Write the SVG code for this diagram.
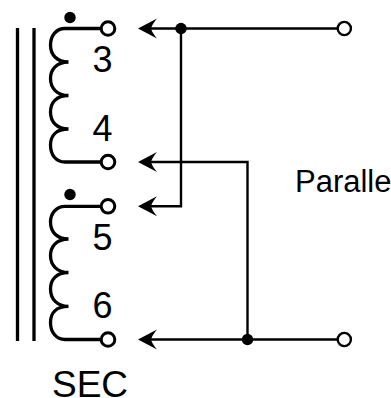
<svg xmlns="http://www.w3.org/2000/svg" width="391" height="398" viewBox="0 0 391 398">
<style>
.w{fill:none;stroke:#000;stroke-width:2.4}
.c{fill:none;stroke:#000;stroke-width:3.3}
.t{fill:#fff;stroke:#000;stroke-width:3}
.u{fill:#fff;stroke:#000;stroke-width:2.4}
.d{fill:#000}
text{font-family:"Liberation Sans",Arial,sans-serif;fill:#000}
</style>
<defs>
<path id="arrow" d="M138 0L157-10Q152-4 151 0Q152 4 157 10Z" class="d"/>
</defs>
<rect width="391" height="398" fill="#fff"/>
<g id="core"><path class="c" d="M17.500 28V341M34 28V341"/></g>
<g id="connectors">
<path class="w" d="M145 28.500H337M181 28.500V206.300H145M145 162H247.500V339M145 339.500H337"/>
<circle class="d" cx="181" cy="28.500" r="5.700"/>
<circle class="d" cx="247.500" cy="339.500" r="5.700"/>
<use href="#arrow" y="28.500"/><use href="#arrow" y="162"/><use href="#arrow" y="206.300"/><use href="#arrow" y="339.500"/>
</g>
<g id="winding-3-4">
<path class="c" d="M101 28.500H65C56 28.500 50.500 36 50.500 45C50.500 55 57 62 68.500 62C56 62 50.500 70 50.500 78.500C50.500 88 57 95.500 68.500 95.500C56 95.500 50.500 103 50.500 112C50.500 122 57 129 68.500 129C56 129 50.500 136 50.500 145C50.500 155 56 162 65 162H101"/>
<circle class="d" cx="70" cy="17.500" r="5.700"/>
<circle class="t" cx="108" cy="28.500" r="6.800"/><circle class="t" cx="108" cy="162" r="6.800"/>
<text x="92.500" y="71.500" font-size="36">3</text><text x="92.500" y="140.500" font-size="36">4</text>
</g>
<g id="winding-5-6">
<path class="c" d="M101 206.300H65C56 206.300 50.500 214 50.500 222C50.500 232 57 239 68.500 239C56 239 50.500 247 50.500 255.500C50.500 265 57 272.500 68.500 272.500C56 272.500 50.500 280 50.500 289C50.500 299 57 306.300 68.500 306.300C56 306.300 50.500 313 50.500 322.500C50.500 332 56 339.500 65 339.500H101"/>
<circle class="d" cx="70" cy="194.500" r="5.700"/>
<circle class="t" cx="108" cy="206.300" r="6.800"/><circle class="t" cx="108" cy="339.500" r="6.800"/>
<text x="92.500" y="250" font-size="36">5</text><text x="92.500" y="317.500" font-size="36">6</text>
</g>
<g id="terminal-top"><circle class="u" cx="344.300" cy="28.500" r="6.600"/></g>
<g id="terminal-bottom"><circle class="u" cx="344.300" cy="339.500" r="6.600"/></g>
<text x="52" y="397" font-size="37">SEC</text>
<text x="295" y="192" font-size="31">Paralle</text>
</svg>
